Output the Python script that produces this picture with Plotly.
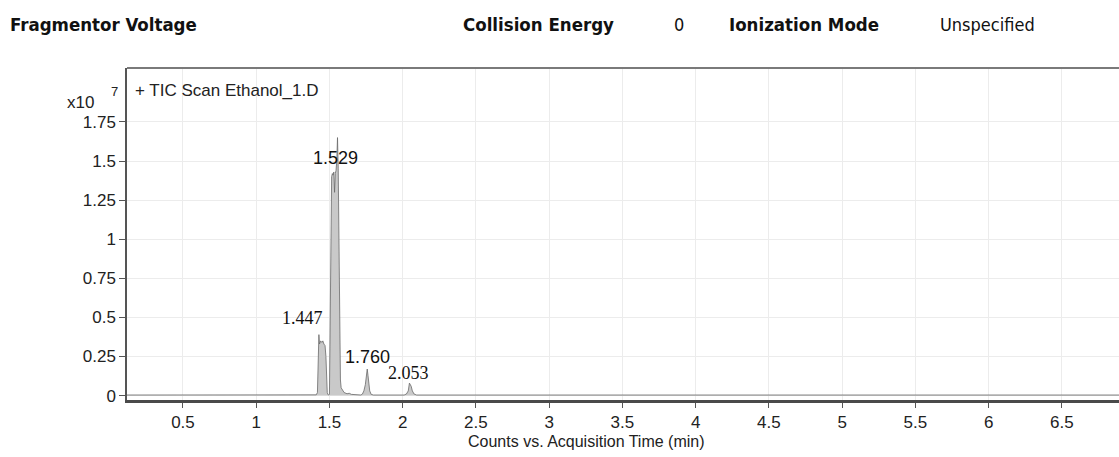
import plotly.graph_objects as go

# TIC chromatogram of Ethanol_1.D (intensity in units of 10^7 counts)
time_min = [
    0.118, 0.60, 1.00, 1.30, 1.40, 1.410, 1.418, 1.422, 1.428, 1.432, 1.440,
    1.448, 1.455, 1.462, 1.470, 1.476, 1.480, 1.485, 1.490, 1.495, 1.500,
    1.505, 1.510, 1.515, 1.520, 1.525, 1.530, 1.535, 1.540, 1.545, 1.550,
    1.555, 1.560, 1.565, 1.570, 1.575, 1.580, 1.590, 1.600, 1.620, 1.635,
    1.650, 1.680, 1.715, 1.725, 1.735, 1.745, 1.750, 1.758, 1.763, 1.768,
    1.775, 1.785, 1.800, 1.900, 2.010, 2.025, 2.038, 2.046, 2.052, 2.058,
    2.066, 2.078, 2.095, 2.200, 3.00, 4.00, 5.00, 6.00, 6.890,
]
counts_e7 = [
    0.004, 0.004, 0.004, 0.004, 0.004, 0.005, 0.020, 0.200, 0.390, 0.330, 0.350,
    0.340, 0.350, 0.330, 0.320, 0.250, 0.080, 0.020, 0.006, 0.004, 0.010,
    0.600, 1.380, 1.400, 1.420, 1.410, 1.430, 1.300, 1.420, 1.440, 1.500,
    1.650, 1.450, 0.900, 0.300, 0.100, 0.050, 0.030, 0.020, 0.012, 0.015,
    0.008, 0.005, 0.004, 0.010, 0.030, 0.070, 0.120, 0.170, 0.130, 0.080,
    0.030, 0.008, 0.004, 0.004, 0.004, 0.010, 0.030, 0.080, 0.070, 0.060,
    0.030, 0.010, 0.004, 0.004, 0.004, 0.004, 0.004, 0.004, 0.004,
]

# Labelled peak retention times and where their labels sit
peak_labels = ["1.447", "1.529", "1.760", "2.053"]
peak_label_x = [1.319, 1.538, 1.763, 2.043]
peak_label_y = [0.496, 1.520, 0.247, 0.145]
peak_label_font = ["Liberation Serif", "Liberation Sans", "Liberation Sans", "Liberation Serif"]

x_ticks = [0.5, 1, 1.5, 2, 2.5, 3, 3.5, 4, 4.5, 5, 5.5, 6, 6.5]
y_ticks = [0, 0.25, 0.5, 0.75, 1, 1.25, 1.5, 1.75]
y_tick_text = ["0", "0.25", "0.5", "0.75", "1", "1.25", "1.5", "1.75"]

fig = go.Figure()

fig.add_trace(go.Scatter(
    x=time_min, y=counts_e7, mode="lines",
    line=dict(color="#6a6a6a", width=0.8),
    fill="tozeroy", fillcolor="#c9c9c9",
    hoverinfo="skip", showlegend=False,
))

for txt, px, py, fam in zip(peak_labels, peak_label_x, peak_label_y, peak_label_font):
    fig.add_annotation(x=px, y=py, text=txt, showarrow=False,
                       font=dict(family=fam, size=18, color="#111"),
                       xanchor="center", yanchor="middle")

# keep grid clear of the title strip at the top of the frame
fig.add_shape(type="rect", xref="paper", yref="y", x0=0, x1=1, y0=1.82, y1=2.095,
              fillcolor="white", line_width=0, layer="between")
# top frame line
fig.add_shape(type="line", xref="paper", yref="paper", x0=0, x1=1, y0=1, y1=1,
              line=dict(color="#7a7a7a", width=2))

fig.add_annotation(xref="paper", yref="paper", x=0.006, y=0.931, text="+ TIC Scan Ethanol_1.D",
                   showarrow=False, xanchor="left", yanchor="middle",
                   font=dict(family="Liberation Sans", size=17, color="#222"))
fig.add_annotation(xref="paper", yref="paper", x=-0.062, y=0.895, text="x10",
                   showarrow=False, xanchor="left", yanchor="middle",
                   font=dict(family="Liberation Sans", size=17, color="#222"))
fig.add_annotation(xref="paper", yref="paper", x=-0.0185, y=0.928, text="7",
                   showarrow=False, xanchor="left", yanchor="middle",
                   font=dict(family="Liberation Sans", size=13, color="#222"))
fig.add_annotation(xref="paper", yref="paper", x=0.4637, y=-0.1235,
                   text="Counts vs. Acquisition Time (min)", showarrow=False,
                   xanchor="center", yanchor="middle",
                   font=dict(family="Liberation Sans", size=16, color="#222"))

# header row
header = [
    ("Fragmentor Voltage", 8, True, 18.5),
    ("Collision Energy", 461, True, 18.5),
    ("0", 672, False, 18),
    ("Ionization Mode", 727, True, 18.5),
    ("Unspecified", 938, False, 18),
]
for txt, px, bold, fsize in header:
    fig.add_annotation(xref="paper", yref="paper", x=(px - 127) / 992, y=1.0 + (68 - 25) / 332,
                       text=f"<b>{txt}</b>" if bold else txt, showarrow=False,
                       xanchor="left", yanchor="middle",
                       font=dict(family="DejaVu Sans Condensed", size=fsize, color="#111"))

fig.update_layout(
    width=1119, height=457,
    margin=dict(l=127, r=0, t=68, b=57),
    paper_bgcolor="white", plot_bgcolor="white",
    font=dict(family="Liberation Sans", size=16, color="#222"),
    xaxis=dict(range=[0.118, 6.89], tickvals=x_ticks, ticktext=[str(v) for v in x_ticks],
               showgrid=True, gridcolor="#ececec", gridwidth=1,
               showline=True, linecolor="#4a4a4a", linewidth=3,
               ticks="outside", ticklen=5, tickcolor="#555", zeroline=False,
               tickfont=dict(size=17, color="#222")),
    yaxis=dict(range=[-0.028, 2.095], tickvals=y_ticks, ticktext=y_tick_text,
               showgrid=True, gridcolor="#ececec", gridwidth=1,
               showline=True, linecolor="#555", linewidth=1.5,
               ticks="outside", ticklen=6, tickcolor="#555", zeroline=False,
               tickfont=dict(size=17, color="#222")),
)

fig.write_html("out.html")
